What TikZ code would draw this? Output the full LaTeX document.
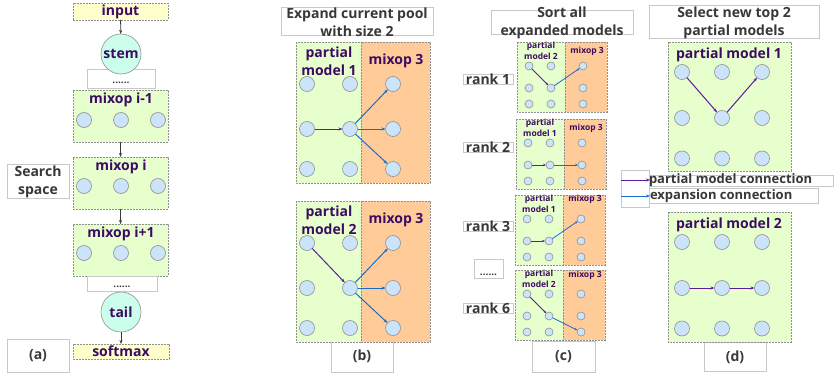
\documentclass[tikz,border=0pt]{standalone}
\usepackage{fontspec}
\setmainfont{Open Sans}
\usetikzlibrary{arrows.meta}
\definecolor{txtp}{HTML}{3C0B64}
\definecolor{txtg}{HTML}{383838}
\definecolor{gfill}{HTML}{E6FFCC}
\definecolor{ofill}{HTML}{FFCC99}
\definecolor{cfill}{HTML}{CCE4FA}
\definecolor{mfill}{HTML}{CCFFEB}
\definecolor{yfill}{HTML}{FFFFCC}
\definecolor{pline}{HTML}{5C1C9E}
\definecolor{bline}{HTML}{1A6CC8}
\definecolor{bord}{HTML}{909090}
\definecolor{lbord}{HTML}{C8C8C8}
\tikzset{
  every node/.style={inner sep=0pt, outer sep=0pt},
  dsh/.style={draw=bord, dash pattern=on 2pt off 1pt, line width=0.6pt},
  gbox/.style={dsh, fill=gfill},
  obox/.style={dsh, fill=ofill},
  ybox/.style={dsh, fill=yfill},
  wbox/.style={draw=lbord, line width=0.7pt, fill=white},
  dot/.style={circle, draw=bord, line width=0.6pt, fill=cfill, minimum size=15pt},
  sdot/.style={dot, minimum size=8pt},
  bigc/.style={circle, draw=bord, line width=0.6pt, fill=mfill, minimum size=40pt,
    font=\bfseries\fontsize{14}{16}\selectfont, text=txtp},
  gt/.style={font=\bfseries\fontsize{14}{18}\selectfont, text=txtg, align=center},
  ptt/.style={font=\bfseries\fontsize{14}{18}\selectfont, text=txtp, align=center},
  spt/.style={font=\bfseries\fontsize{8.5}{10.5}\selectfont, text=txtp, align=center},
  lt/.style={font=\bfseries\fontsize{13}{15}\selectfont, text=txtg, anchor=west},
  parr/.style={draw=pline, line width=1pt, -{Stealth[length=4pt,width=3pt]}},
  barr/.style={draw=bline, line width=1pt, -{Stealth[length=4pt,width=3pt]}},
  sparr/.style={draw=pline, line width=0.8pt, -{Stealth[length=3pt,width=2.4pt]}},
  sbarr/.style={draw=bline, line width=0.8pt, -{Stealth[length=3pt,width=2.4pt]}},
  garr/.style={draw=txtg, line width=0.8pt, -{Stealth[length=4pt,width=3pt]}},
}
\begin{document}
\begin{tikzpicture}[x=1pt,y=-1pt]
\useasboundingbox (0,0) rectangle (834,377);
% ---------------- (a) ----------------
\node[ybox, minimum width=95pt, minimum height=17pt, ptt] (inp) at (120.5,11.5) {input};
\node[wbox, minimum width=68pt, minimum height=19pt] (dd1) at (121,78.5) {};
\node[gt, font=\bfseries\fontsize{10}{12}\selectfont, anchor=base] (dd1t) at (121,83.5) {......};
\node[bigc] (stem) at (121,54) {stem};
\draw[garr] (inp) -- (stem);
\node[gbox, minimum width=95pt, minimum height=52pt] (m1) at (120.5,116) {};
\node[gbox, minimum width=95pt, minimum height=52pt] (m2) at (120.5,183) {};
\node[gbox, minimum width=95pt, minimum height=52pt] (m3) at (120.5,250) {};
\node[ptt] (m1t) at (121,100) {mixop i-1};
\node[ptt] (m2t) at (121,167) {mixop i};
\node[ptt] (m3t) at (121,234) {mixop i+1};
\foreach \m/\yy in {1/120,2/186,3/253}{
  \foreach \c/\xx in {1/84,2/121,3/158}{
    \node[dot] (a\m-\c) at (\xx,\yy) {};
  }
}
\draw[garr] (m1) -- (m2);
\draw[garr] (m2) -- (m3);
\node[wbox, minimum width=70pt, minimum height=15pt] (dd2) at (122,283.5) {};
\node[gt, font=\bfseries\fontsize{10}{12}\selectfont, anchor=base] (dd2t) at (122,287.5) {......};
\node[bigc] (tail) at (121,312) {tail};
\node[ybox, minimum width=96pt, minimum height=15pt, ptt] (soft) at (121,351.5) {softmax};
\draw[garr] (tail) -- (soft);
\node[wbox, minimum width=62pt, minimum height=34pt] (ssb) at (38,181) {};
\node[gt] (sst) at (38,181.5) {Search\\space};
\node[wbox, minimum width=62pt, minimum height=33pt, gt] (la) at (38,355.5) {(a)};
% ---------------- (b) ----------------
\node[wbox, minimum width=152pt, minimum height=28pt] (tbb) at (357,21) {};
\node[gt] (tbt) at (357,22) {Expand current pool\\with size 2};
\node[wbox, minimum width=62pt, minimum height=37pt] (lb) at (362,353.5) {};
\node[gt] (lbt) at (362,356) {(b)};
\foreach \n/\y/\pa/\num in {t/42/2/1, u/201/1/2}{
  \draw[gbox] (296,\y) rectangle (361,\y+141);
  \draw[obox] (361,\y) rectangle (430,\y+141);
  \node[ptt] (b\n-lab) at (329,\y+19) {partial\\model \num};
  \node[ptt] (b\n-mix) at (396,\y+19) {mixop 3};
  \foreach \r/\ry in {1/42,2/87,3/127}{
    \foreach \c/\cx in {1/307,2/350,3/393}{
      \node[dot] (b\n-\c-\r) at (\cx,\y+\ry) {};
    }
  }
  \draw[parr] (b\n-1-\pa) -- (b\n-2-2);
  \foreach \r in {1,2,3}{ \draw[barr] (b\n-2-2) -- (b\n-3-\r); }
}
% ---------------- (c) ----------------
\node[wbox, minimum width=142pt, minimum height=24pt] (tcb) at (562,22) {};
\node[gt] (tct) at (562,22.5) {Sort all\\expanded models};
\node[wbox, minimum width=63pt, minimum height=31pt] (lc) at (563.5,356.5) {};
\node[gt] (lct) at (563.5,357) {(c)};
\foreach \n/\x/\y/\num/\my/\pa/\bb/\rk/\ry in {a/517/42/2/9/1-1/3-1/1/79, b/516/119/1/9/1-2/3-2/2/147, c/515/195/1/4/1-2/3-1/3/226, d/515/270/2/5/1-1/3-3/6/308}{
  \draw[gbox] (\x,\y) rectangle (\x+48,\y+70);
  \draw[obox] (\x+48,\y) rectangle (\x+90,\y+70);
  \node[spt] (c\n-lab) at (\x+24,\y+9) {partial\\model \num};
  \node[spt] (c\n-mix) at (\x+70,\y+\my) {mixop 3};
  \foreach \r/\rr in {1/24,2/46,3/62}{
    \foreach \c/\cc in {1/12,2/34,3/66}{
      \node[sdot] (c\n-\c-\r) at (\x+\cc,\y+\rr) {};
    }
  }
  \draw[sparr] (c\n-\pa) -- (c\n-2-2);
  \draw[sbarr] (c\n-2-2) -- (c\n-\bb);
  \node[wbox, minimum width=50pt, minimum height=10pt] (rb\n) at (488,\ry) {};
  \node[gt] (rt\n) at (488,\ry) {rank \rk};
}
\node[wbox, minimum width=29pt, minimum height=19pt] (cdd) at (488.5,268.5) {};
\node[gt, font=\bfseries\fontsize{10}{12}\selectfont, anchor=base] (cddt) at (488.5,275) {......};
% ---------------- (d) ----------------
\node[wbox, minimum width=170pt, minimum height=33pt] (tdb) at (734,21.5) {};
\node[gt] (tdt) at (734,22.5) {Select new top 2\\partial models};
\node[wbox, minimum width=62pt, minimum height=29pt] (ld) at (735,356.5) {};
\node[gt] (ldt) at (735,357) {(d)};
\foreach \n/\y/\h/\num in {t/42/129/1, u/212/130/2}{
  \draw[gbox] (668,\y) rectangle (791,\y+\h);
  \node[ptt] (d\n-lab) at (729,\y+12.5) {partial model \num};
  \foreach \r/\rr in {1/30,2/76,3/116.5}{
    \foreach \c/\cx in {1/682,2/722,3/762}{
      \node[dot] (d\n-\c-\r) at (\cx,\y+\rr) {};
    }
  }
}
\draw[parr] (dt-1-1) -- (dt-2-2);
\draw[parr] (dt-2-2) -- (dt-3-1);
\draw[parr] (du-1-2) -- (du-2-2);
\draw[parr] (du-2-2) -- (du-3-2);
% legend
\draw[wbox] (621,170) rectangle (649,207);
\draw[wbox] (649,175) rectangle (833,186);
\draw[wbox] (649,188) rectangle (818,203);
\coordinate (lp0) at (621,180);
\coordinate (lp1) at (650,180);
\coordinate (lb0) at (621,196);
\coordinate (lb1) at (650,196);
\draw[parr] (lp0) -- (lp1);
\draw[barr] (lb0) -- (lb1);
\node[lt] (lpt) at (649,180) {partial model connection};
\node[lt] (lbt2) at (650,196) {expansion connection};
\end{tikzpicture}
\end{document}
